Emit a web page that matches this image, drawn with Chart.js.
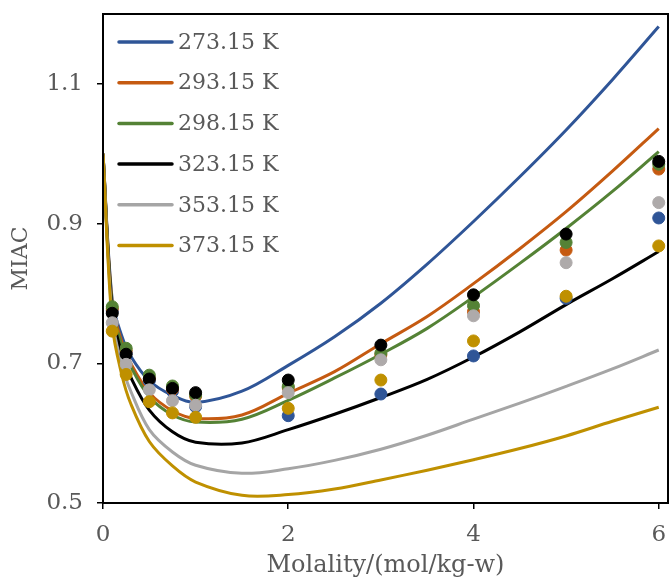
<!DOCTYPE html>
<html lang="en">
<head>
<meta charset="UTF-8">
<title>MIAC vs molality</title>
<script src="https://cdn.jsdelivr.net/npm/chart.js"></script>
<style>
    html, body { margin: 0; padding: 0; background: #fff; }
    #wrap { width: 669px; height: 580px; }
</style>
</head>
<body>
<div id="wrap"><canvas id="miacChart" width="669" height="580"></canvas></div>
<script>
    // series labels and colours
    const temps = ['273.15 K', '293.15 K', '298.15 K', '323.15 K', '353.15 K', '373.15 K'];
    const lineColors = ['#2F5597', '#C55A11', '#548235', '#000000', '#A5A5A5', '#BF9000'];
    const dotColors = ['#2F5597', '#C55A11', '#548235', '#000000', '#AEAAAA', '#BF9000'];

    // model curves (molality grid + one array per temperature)
    const curveX = [0, 0.1, 0.2, 0.3, 0.5, 0.75, 1, 1.5, 2, 2.5, 3, 3.5, 4, 4.5, 5, 5.5, 6];
    const curve273 = [1.0, 0.79, 0.74, 0.71, 0.675, 0.654, 0.644, 0.660, 0.697, 0.738, 0.786, 0.842, 0.903, 0.967, 1.034, 1.106, 1.182];
    const curve293 = [1.0, 0.785, 0.732, 0.700, 0.658, 0.632, 0.621, 0.626, 0.657, 0.688, 0.728, 0.767, 0.814, 0.864, 0.917, 0.975, 1.036];
    const curve298 = [1.0, 0.78, 0.727, 0.695, 0.652, 0.626, 0.616, 0.620, 0.647, 0.679, 0.713, 0.750, 0.795, 0.843, 0.893, 0.946, 1.003];
    const curve323 = [1.0, 0.775, 0.715, 0.680, 0.633, 0.602, 0.587, 0.586, 0.605, 0.627, 0.651, 0.677, 0.709, 0.745, 0.784, 0.821, 0.860];
    const curve353 = [1.0, 0.765, 0.698, 0.660, 0.605, 0.573, 0.554, 0.5425, 0.549, 0.561, 0.577, 0.597, 0.620, 0.643, 0.667, 0.692, 0.719];
    const curve373 = [1.0, 0.755, 0.685, 0.642, 0.588, 0.553, 0.530, 0.511, 0.512, 0.520, 0.533, 0.547, 0.562, 0.578, 0.596, 0.617, 0.637];

    // experimental points
    const expX = [0.1, 0.25, 0.5, 0.75, 1, 2, 3, 4, 5, 6];
    const exp273 = [0.775, 0.715, 0.675, 0.660, 0.638, 0.625, 0.656, 0.7105, 0.793, 0.908];
    const exp293 = [0.778, 0.718, 0.678, 0.663, 0.653, 0.665, 0.712, 0.774, 0.862, 0.978];
    const exp298 = [0.781, 0.7215, 0.683, 0.6675, 0.655, 0.667, 0.7145, 0.7825, 0.873, 0.985];
    const exp323 = [0.7716, 0.713, 0.6775, 0.664, 0.658, 0.676, 0.726, 0.798, 0.885, 0.989];
    const exp353 = [0.758, 0.6985, 0.662, 0.6465, 0.640, 0.658, 0.705, 0.768, 0.844, 0.930];
    const exp373 = [0.746, 0.684, 0.645, 0.629, 0.6227, 0.6355, 0.676, 0.732, 0.796, 0.868];

    const xTicks = [0, 2, 4, 6];
    const yTicks = [0.5, 0.7, 0.9, 1.1];

    const curves = [curve273, curve293, curve298, curve323, curve353, curve373];
    const exps = [exp273, exp293, exp298, exp323, exp353, exp373];

    const textGrey = '#595959';
    const fontFam = "'DejaVu Serif', serif";

    const datasets = [];
    curves.forEach((c, i) => {
        datasets.push({
            type: 'line',
            label: temps[i],
            data: curveX.map((x, j) => ({ x: x, y: c[j] })),
            borderColor: lineColors[i],
            borderWidth: 3,
            pointRadius: 0,
            tension: 0.35,
            fill: false,
            order: 12 - i
        });
    });
    exps.forEach((e, i) => {
        datasets.push({
            type: 'scatter',
            label: temps[i] + ' exp',
            data: expX.map((x, j) => ({ x: x, y: e[j] })),
            backgroundColor: dotColors[i],
            borderColor: dotColors[i],
            borderWidth: 1,
            pointRadius: 6,
            order: 6 - i
        });
    });

    // frame round the plot + legend inside the plot
    const boxAndLegend = {
        id: 'boxAndLegend',
        afterDraw(chart) {
            const ctx = chart.ctx;
            const a = chart.chartArea;
            ctx.save();
            ctx.strokeStyle = '#000';
            ctx.lineWidth = 2;
            ctx.strokeRect(a.left, a.top, a.right - a.left, a.bottom - a.top);

            ctx.font = '22px ' + fontFam;
            ctx.textBaseline = 'middle';
            ctx.fillStyle = textGrey;
            ctx.lineCap = 'round';
            temps.forEach((t, i) => {
                const y = a.top + 28 + i * 40.7;
                ctx.strokeStyle = lineColors[i];
                ctx.lineWidth = 3.5;
                ctx.beginPath();
                ctx.moveTo(a.left + 16, y);
                ctx.lineTo(a.left + 69, y);
                ctx.stroke();
                ctx.fillText(t, a.left + 75, y + 1);
            });
            ctx.restore();
        }
    };

    new Chart(document.getElementById('miacChart'), {
        data: { datasets: datasets },
        options: {
            responsive: false,
            animation: false,
            layout: { autoPadding: false, padding: { top: 14, right: 1, left: 0, bottom: 0 } },
            plugins: {
                legend: { display: false },
                tooltip: { enabled: false }
            },
            scales: {
                x: {
                    type: 'linear',
                    min: 0,
                    max: 6.1,
                    afterBuildTicks: axis => { axis.ticks = xTicks.map(v => ({ value: v })); },
                    afterFit: s => {
                        s.height = 77;
                        s.paddingLeft = 0; s.paddingRight = 0;
                    },
                    ticks: {
                        color: textGrey,
                        font: { family: fontFam, size: 23 },
                        padding: 12,
                        maxRotation: 0
                    },
                    grid: { drawOnChartArea: false, drawTicks: true, tickLength: 6, color: '#000', lineWidth: 1.5 },
                    border: { color: '#000', width: 2 },
                    title: {
                        display: true,
                        text: 'Molality/(mol/kg-w)',
                        color: textGrey,
                        font: { family: fontFam, size: 24 },
                        padding: { top: 0, bottom: 0 }
                    }
                },
                y: {
                    type: 'linear',
                    min: 0.5,
                    max: 1.2,
                    afterBuildTicks: axis => { axis.ticks = yTicks.map(v => ({ value: v })); },
                    afterFit: s => {
                        s.width = 103;
                        s.paddingTop = 0; s.paddingBottom = 0;
                    },
                    ticks: {
                        color: textGrey,
                        font: { family: fontFam, size: 23 },
                        padding: 14,
                        callback: v => v.toFixed(1)
                    },
                    grid: { drawOnChartArea: false, drawTicks: true, tickLength: 6, color: '#000', lineWidth: 1.5 },
                    border: { color: '#000', width: 2 },
                    title: {
                        display: true,
                        text: 'MIAC',
                        color: textGrey,
                        font: { family: fontFam, size: 22 },
                        padding: { top: 8, bottom: 0 }
                    }
                }
            }
        },
        plugins: [boxAndLegend]
    });
</script>
</body>
</html>
